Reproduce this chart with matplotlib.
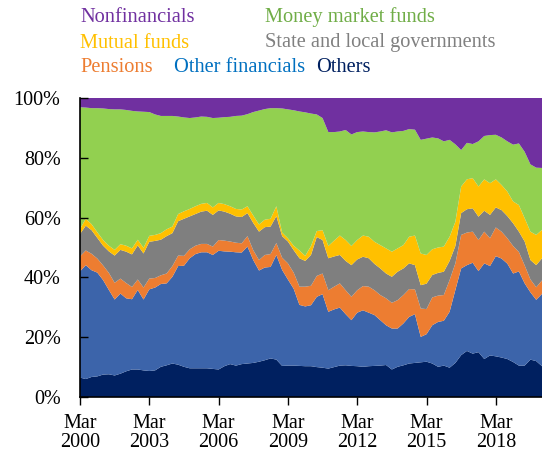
import matplotlib
matplotlib.use("Agg")
import matplotlib.pyplot as plt
import numpy as np

plt.rcParams['font.family'] = ['Liberation Serif', 'DejaVu Serif']

# quarterly, Mar 2000 .. Mar 2020, shares of total (%)
quarters = np.arange(81)
tick_pos = [0, 12, 24, 36, 48, 60, 72]
tick_labels = ["Mar\n2000", "Mar\n2003", "Mar\n2006", "Mar\n2009",
               "Mar\n2012", "Mar\n2015", "Mar\n2018"]

others = [6.5, 6.0, 6.7, 6.9, 7.5, 7.6, 7.2, 7.8, 8.6, 9.2,
          9.2, 8.9, 8.7, 8.9, 10.1, 10.6, 11.2, 10.8, 10.1, 9.6,
          9.6, 9.6, 9.6, 9.4, 9.2, 10.3, 11.0, 10.5, 11.0, 11.2,
          11.4, 11.8, 12.3, 12.9, 12.5, 10.4, 10.5, 10.5, 10.4, 10.3,
          10.3, 10.0, 9.8, 9.5, 10.0, 10.5, 10.6, 10.4, 10.3, 10.1,
          10.3, 10.4, 10.5, 10.7, 9.2, 10.1, 10.6, 11.2, 11.4, 11.6,
          11.8, 11.2, 10.1, 10.5, 9.8, 11.4, 14.0, 15.4, 14.5, 15.0,
          12.7, 13.9, 13.6, 13.2, 12.7, 11.7, 10.5, 10.5, 12.5, 12.0,
          10.3]
other_financials = [35.5, 38.1, 35.7, 34.7, 31.6, 28.2, 25.4, 26.8, 24.4, 23.5,
                    26.6, 23.7, 27.3, 27.7, 27.7, 27.4, 29.0, 33.0, 33.8, 36.8,
                    38.2, 38.8, 38.8, 38.1, 39.7, 38.4, 37.6, 37.9, 37.3, 39.1,
                    34.4, 30.5, 31.0, 30.6, 35.0, 32.1, 28.8, 25.7, 20.4, 20.0,
                    20.4, 23.5, 24.6, 19.0, 19.3, 19.4, 17.1, 15.3, 17.9, 18.9,
                    17.9, 17.0, 15.2, 13.3, 13.7, 12.8, 14.0, 15.6, 16.3, 8.5,
                    9.2, 12.8, 15.0, 15.0, 18.7, 24.4, 29.0, 28.7, 30.4, 27.1,
                    32.0, 29.9, 33.5, 33.1, 31.9, 29.6, 31.5, 27.5, 22.5, 20.5,
                    24.2]
pensions = [5.0, 4.9, 5.5, 4.7, 4.9, 5.7, 5.6, 5.0, 5.1, 4.1,
            3.5, 4.0, 3.6, 3.2, 2.9, 3.3, 3.6, 3.5, 3.3, 3.0,
            2.8, 2.8, 2.8, 2.8, 3.6, 3.6, 3.4, 3.2, 3.1, 3.5,
            3.3, 3.5, 4.2, 4.3, 4.0, 4.1, 5.4, 5.4, 6.1, 6.6,
            6.5, 7.0, 6.9, 7.2, 7.6, 8.1, 8.0, 7.8, 7.5, 8.1,
            8.7, 8.3, 8.4, 9.0, 8.6, 9.5, 9.5, 9.3, 8.3, 9.5,
            8.4, 9.3, 8.8, 8.6, 10.6, 8.9, 11.2, 10.9, 10.4, 10.4,
            10.6, 9.3, 9.6, 9.0, 8.5, 9.2, 6.5, 6.0, 4.3, 4.2,
            4.5]
state_local = [7.5, 8.3, 7.9, 6.9, 6.6, 7.2, 9.1, 9.6, 10.5, 10.9,
               11.4, 11.4, 12.3, 12.4, 11.9, 12.5, 11.0, 11.5, 12.4, 11.0,
               10.6, 10.8, 11.1, 10.6, 9.9, 9.7, 9.3, 8.8, 8.8, 7.7,
               9.1, 9.5, 9.3, 9.2, 9.0, 7.2, 7.3, 7.5, 9.5, 8.6,
               10.3, 13.0, 11.2, 10.7, 10.1, 9.5, 9.8, 10.6, 10.3, 9.8,
               9.5, 8.8, 8.9, 8.3, 8.7, 9.5, 8.9, 8.6, 8.1, 7.8,
               8.5, 7.5, 7.6, 7.8, 6.4, 5.8, 7.3, 7.8, 7.8, 7.8,
               7.0, 7.8, 6.7, 7.2, 7.4, 7.6, 6.8, 8.0, 6.5, 7.4,
               7.4]
mutual_funds = [1.7, 2.3, 2.0, 1.9, 1.9, 1.9, 1.9, 1.9, 2.0, 2.0,
                1.9, 1.9, 2.0, 2.0, 2.2, 2.3, 2.2, 2.4, 2.5, 2.5,
                2.6, 2.6, 2.6, 2.5, 2.5, 2.5, 2.5, 2.5, 2.5, 2.3,
                2.5, 2.4, 2.5, 2.6, 3.3, 1.2, 1.1, 1.5, 2.6, 1.7,
                3.0, 2.0, 3.3, 4.1, 5.3, 6.5, 7.0, 6.4, 6.5, 7.1,
                7.2, 7.4, 7.8, 8.4, 8.4, 7.8, 7.8, 8.9, 9.9, 10.6,
                9.6, 8.6, 8.5, 8.4, 8.1, 8.1, 8.9, 10.0, 10.1, 10.1,
                10.5, 10.6, 9.4, 8.4, 8.2, 7.3, 8.9, 7.8, 9.5, 10.1,
                9.5]
money_market = [40.7, 37.2, 38.8, 41.5, 44.0, 45.7, 47.0, 45.1, 45.4, 46.0,
                42.9, 45.5, 41.4, 40.3, 39.2, 37.9, 37.0, 32.6, 31.4, 30.4,
                29.7, 29.2, 28.8, 29.9, 28.5, 29.1, 29.9, 31.1, 31.4, 30.8,
                34.6, 38.1, 37.0, 37.0, 32.8, 41.5, 43.1, 45.3, 46.5, 48.0,
                44.3, 39.0, 37.5, 38.1, 36.3, 34.8, 36.8, 37.3, 36.1, 34.8,
                35.0, 36.6, 38.0, 39.5, 39.9, 39.1, 38.2, 36.0, 35.4, 38.0,
                38.9, 37.4, 36.5, 35.2, 32.4, 25.9, 12.2, 12.2, 11.4, 15.1,
                14.5, 16.1, 14.9, 15.9, 16.8, 19.0, 20.6, 22.2, 22.5, 22.5,
                20.7]
nonfinancials = [3.1, 3.2, 3.4, 3.4, 3.5, 3.7, 3.8, 3.8, 4.0, 4.3,
                 4.5, 4.6, 4.7, 5.5, 6.0, 6.0, 6.0, 6.2, 6.5, 6.7,
                 6.5, 6.2, 6.3, 6.7, 6.6, 6.4, 6.3, 6.0, 5.9, 5.4,
                 4.7, 4.2, 3.7, 3.4, 3.4, 3.5, 3.8, 4.1, 4.5, 4.8,
                 5.2, 5.5, 6.7, 11.4, 11.4, 11.2, 10.7, 12.2, 11.4, 11.2,
                 11.4, 11.5, 11.2, 10.8, 11.5, 11.2, 11.0, 10.4, 10.6, 14.0,
                 13.6, 13.2, 13.5, 14.5, 14.0, 15.5, 17.4, 15.0, 15.4, 14.5,
                 12.7, 12.4, 12.3, 13.2, 14.5, 15.6, 15.2, 18.0, 22.2, 23.3,
                 23.4]

fill_colors = ["#002060", "#3C64AA", "#ED7D31", "#7F7F7F",
               "#FFC000", "#92D050", "#7030A0"]
text_colors = ["#002060", "#0070C0", "#ED7D31", "#808080",
               "#FFC000", "#70AD47", "#7030A0"]

fig = plt.figure(figsize=(5.42, 4.55), dpi=100)
ax = fig.add_axes([80 / 542, 58 / 455, 462 / 542, 299 / 455])

data = [others, other_financials, pensions, state_local,
        mutual_funds, money_market, nonfinancials]
tot = np.sum(np.array(data), axis=0)
shares = [np.array(d) / tot * 100 for d in data]
ax.stackplot(quarters, *shares, colors=fill_colors, linewidth=0)

ax.set_xlim(0, 80)
ax.set_ylim(0, 100)
ax.set_yticks(range(0, 101, 20))
ax.set_yticklabels([f"{v}%" for v in range(0, 101, 20)])
ax.set_xticks(tick_pos)
ax.set_xticklabels(tick_labels, linespacing=1.05)
ax.tick_params(axis='y', direction='in', length=6, width=1, labelsize=14.5, pad=14)
ax.tick_params(axis='x', direction='out', length=6, width=1, labelsize=14.5, pad=6)
for s in ['top', 'right']:
    ax.spines[s].set_visible(False)
for s in ['left', 'bottom']:
    ax.spines[s].set_linewidth(1.2)
    ax.spines[s].set_zorder(5)

# legend as coloured text rows
legend = [("Nonfinancials", 80, 17, 6), ("Money market funds", 265, 17, 5),
          ("Mutual funds", 80, 43, 4), ("State and local governments", 265, 43, 3),
          ("Pensions", 80, 68, 2), ("Other financials", 174, 68, 1),
          ("Others", 316, 68, 0)]
for label, px, py, k in legend:
    fig.text(px / 542, 1 - py / 455, label, color=text_colors[k],
             fontsize=14.7, va='center', ha='left')

fig.savefig("out.png", dpi=100)
